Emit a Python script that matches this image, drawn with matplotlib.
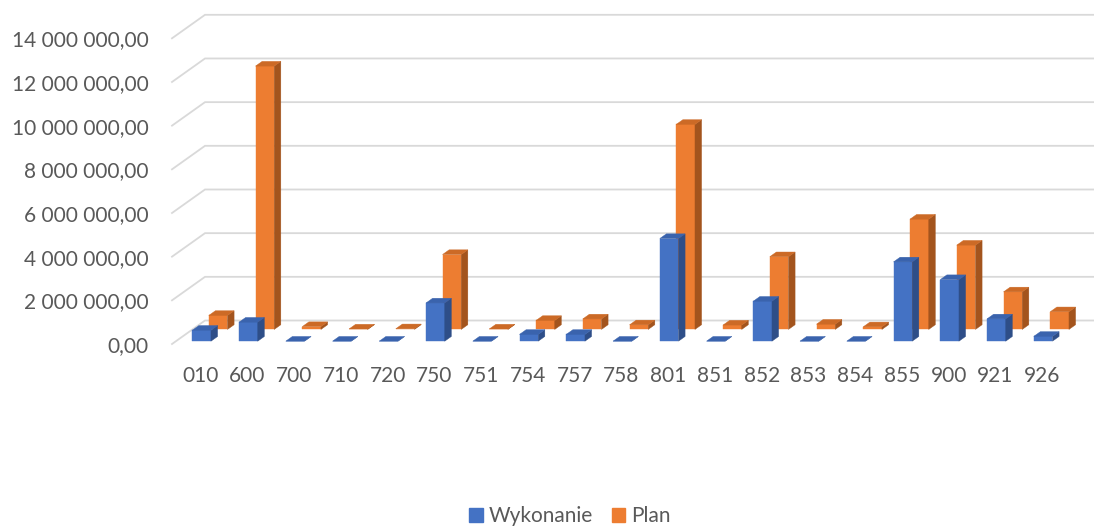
import numpy as np
import matplotlib
matplotlib.use("Agg")
import matplotlib.pyplot as plt
from matplotlib.patches import Polygon, Patch

plt.rcParams["font.family"] = ["Lato", "DejaVu Sans"]

# dział budżetu
categories = ["010", "600", "700", "710", "720", "750", "751", "754", "757", "758",
              "801", "851", "852", "853", "854", "855", "900", "921", "926"]
wykonanie = [0.50e6, 0.87e6, 0, 0, 0, 1.75e6, 0, 0.31e6, 0.31e6, 0,
             4.70e6, 0, 1.83e6, 0, 0, 3.63e6, 2.82e6, 1.02e6, 0.22e6]
plan = [0.64e6, 12.06e6, 0.13e6, 0.02e6, 0.03e6, 3.43e6, 0.02e6, 0.41e6, 0.48e6, 0.21e6,
        9.39e6, 0.20e6, 3.33e6, 0.24e6, 0.12e6, 5.05e6, 3.86e6, 1.72e6, 0.81e6]
y_ticks = np.arange(0, 14e6 + 1, 2e6)

# colours: front, top, side
BLUE = ("#4472C4", "#3A63AD", "#2E4E88")
ORANGE = ("#ED7D31", "#CC6A26", "#A3541D")
GRID = "#D9D9D9"
TEXT = "#595959"

# oblique "3D" depth vector (category units, value units)
DX, DY = 0.706, 1.076e6
X_LEFT, X_RIGHT = -0.615, 18.615
BAR_X, BAR_W = -0.266, 0.40
BAR_DEPTH = 0.2


def proj(x, v, d):
    return x + d * DX, v + d * DY


def fmt(v):
    return "{:,.2f}".format(v).replace(",", " ").replace(".", ",")


fig = plt.figure(figsize=(10.94, 5.29), dpi=100)
ax = fig.add_axes([172 / 1094, 1 - 344 / 529, (1071 - 172) / 1094, (344 - 38.3) / 529])
ax.set_xlim(X_LEFT, X_RIGHT)
ax.set_ylim(0, 14e6)
for s in ax.spines.values():
    s.set_visible(False)

# back wall and left wall gridlines
for v in y_ticks:
    x0, y0 = proj(X_LEFT, v, 0)
    x1, y1 = proj(X_LEFT, v, 1)
    x2, y2 = proj(X_RIGHT + 1, v, 1)
    ax.plot([x0, x1, x2], [y0, y1, y2], color=GRID, lw=1.3, clip_on=False,
            zorder=0, solid_joinstyle="miter")


def draw_bar(ax, i, v, d0, colors):
    front, top, side = colors
    d1 = d0 + BAR_DEPTH
    xa = i + BAR_X
    xb = xa + BAR_W
    faces = [
        ([proj(xa, 0, d0), proj(xb, 0, d0), proj(xb, v, d0), proj(xa, v, d0)], front),
        ([proj(xb, 0, d0), proj(xb, 0, d1), proj(xb, v, d1), proj(xb, v, d0)], side),
        ([proj(xa, v, d0), proj(xb, v, d0), proj(xb, v, d1), proj(xa, v, d1)], top),
    ]
    for pts, c in faces:
        ax.add_patch(Polygon(pts, closed=True, facecolor=c, edgecolor=c, lw=0.3,
                             clip_on=False, zorder=2))


# back row (Plan) first, then front row (Wykonanie)
for i, v in enumerate(plan):
    draw_bar(ax, i, v, 0.62, ORANGE)
for i, v in enumerate(wykonanie):
    draw_bar(ax, i, v, 0.12, BLUE)

ax.set_yticks(y_ticks)
ax.set_yticklabels([fmt(v) for v in y_ticks])
ax.set_xticks(np.arange(len(categories)))
ax.set_xticklabels(categories)
ax.tick_params(axis="y", length=0, pad=17, labelsize=15, labelcolor=TEXT)
ax.tick_params(axis="x", length=0, pad=16, labelsize=15, labelcolor=TEXT)

handles = [Patch(color=BLUE[0]), Patch(color=ORANGE[0])]
fig.legend(handles, ["Wykonanie", "Plan"], loc="center",
           bbox_to_anchor=(570 / 1094, 1 - 516 / 529), ncol=2, frameon=False,
           handlelength=0.65, handleheight=0.65, handletextpad=0.3,
           columnspacing=0.9, fontsize=15, labelcolor=TEXT)

fig.savefig("out.png", dpi=100)
